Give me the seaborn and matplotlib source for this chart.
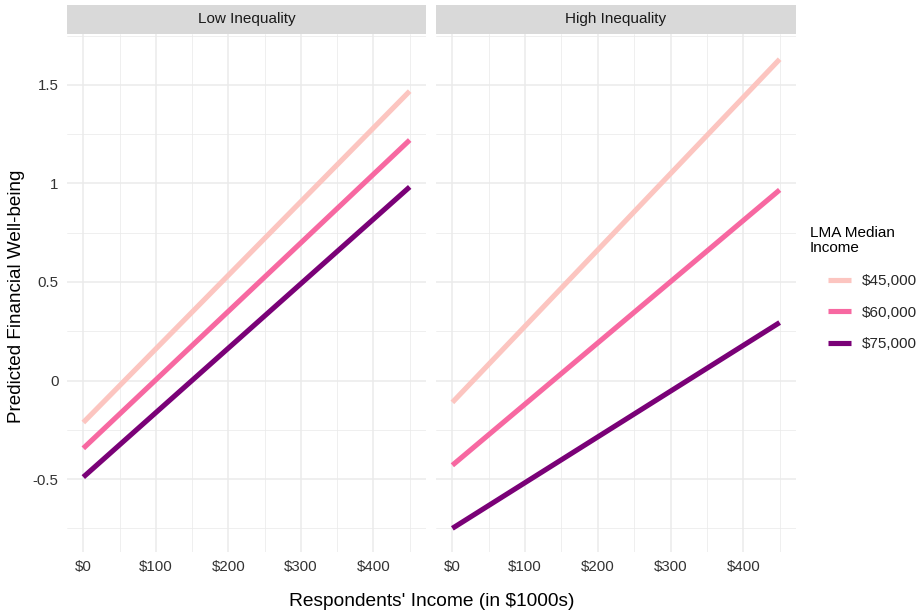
import matplotlib
matplotlib.use("Agg")
import matplotlib.pyplot as plt
from matplotlib.patches import Rectangle
from matplotlib.lines import Line2D
from matplotlib.ticker import MultipleLocator, FuncFormatter
import numpy as np
import pandas as pd
import seaborn as sns

# Predicted financial well-being at respondent income of $0k and $450k
panels = ["Low Inequality", "High Inequality"]
income_levels = ["$45,000", "$60,000", "$75,000"]
income_x = [0, 450]
low_45 = [-0.213, 1.468]
low_60 = [-0.344, 1.220]
low_75 = [-0.490, 0.982]
high_45 = [-0.111, 1.630]
high_60 = [-0.430, 0.967]
high_75 = [-0.750, 0.294]
colors = ["#FCC5C0", "#F768A1", "#7A0177"]

series = {
    "Low Inequality": [low_45, low_60, low_75],
    "High Inequality": [high_45, high_60, high_75],
}
rows = []
for p in panels:
    for lvl, vals in zip(income_levels, series[p]):
        for x, y in zip(income_x, vals):
            rows.append({"panel": p, "lma": lvl, "income": x, "wellbeing": y})
df = pd.DataFrame(rows)

sns.set_theme(style="white")
plt.rcParams["font.family"] = ["Liberation Sans", "DejaVu Sans"]

W, H = 924, 613
fig = plt.figure(figsize=(W / 100, H / 100), dpi=100)
palette = dict(zip(income_levels, colors))

panel_boxes = [(67, 426), (436, 796)]
top_px, bot_px, strip_top = 34, 552, 5
grid_c = "#EBEBEB"

for i, (p, (x0, x1)) in enumerate(zip(panels, panel_boxes)):
    ax = fig.add_axes([x0 / W, 1 - bot_px / H, (x1 - x0) / W, (bot_px - top_px) / H])
    sub = df[df.panel == p]
    sns.lineplot(data=sub, x="income", y="wellbeing", hue="lma", palette=palette,
                 hue_order=income_levels, linewidth=3.7, ax=ax, legend=False,
                 solid_capstyle="butt", zorder=3)
    ax.set_xlim(-22.5, 472.5)
    ax.set_ylim(-0.870, 1.758)
    ax.xaxis.set_major_locator(MultipleLocator(100))
    ax.xaxis.set_minor_locator(MultipleLocator(50))
    ax.yaxis.set_major_locator(MultipleLocator(0.5))
    ax.yaxis.set_minor_locator(MultipleLocator(0.25))
    ax.xaxis.set_major_formatter(FuncFormatter(lambda v, pos: f"${v:.0f}"))
    ax.yaxis.set_major_formatter(FuncFormatter(lambda v, pos: f"{v:g}"))
    ax.grid(which="major", color=grid_c, linewidth=1.1, zorder=0)
    ax.grid(which="minor", color=grid_c, linewidth=0.55, zorder=0)
    for s in ax.spines.values():
        s.set_visible(False)
    ax.tick_params(axis="both", which="both", length=0, labelsize=10.8,
                   labelcolor="#333333", pad=6)
    ax.set_xlabel("")
    ax.set_ylabel("")
    if i == 1:
        ax.set_yticklabels([])
    # facet strip
    fig.patches.append(Rectangle((x0 / W, 1 - top_px / H), (x1 - x0) / W,
                                 (top_px - strip_top) / H, transform=fig.transFigure,
                                 facecolor="#D9D9D9", edgecolor="none", zorder=1))
    fig.text((x0 + x1) / 2 / W, 1 - (top_px + strip_top) / 2 / H, p,
             ha="center", va="center", fontsize=11, color="#1A1A1A")

fig.text((67 + 796) / 2 / W, 1 - 601 / H, "Respondents' Income (in $1000s)",
         ha="center", va="center", fontsize=13.8, color="#000000")
fig.text(17 / W, 1 - 296 / H, "Predicted Financial Well-being", rotation=90,
         ha="center", va="center", fontsize=13.6, color="#000000")

# legend: title as its own text, keys slightly indented below it
fig.text(810 / W, 1 - 226 / H, "LMA Median\nIncome", ha="left", va="top",
         fontsize=11, color="#000000", linespacing=1.1)
handles = [Line2D([0], [0], color=c, linewidth=3.7, solid_capstyle="butt")
           for c in colors]
leg = fig.legend(handles, income_levels, loc="upper left",
                 bbox_to_anchor=(828 / W, 1 - 274 / H),
                 frameon=False, fontsize=11, handlelength=1.5,
                 handletextpad=0.72, labelspacing=1.15,
                 borderpad=0, borderaxespad=0)

fig.savefig("out.png", dpi=100, facecolor="white")
